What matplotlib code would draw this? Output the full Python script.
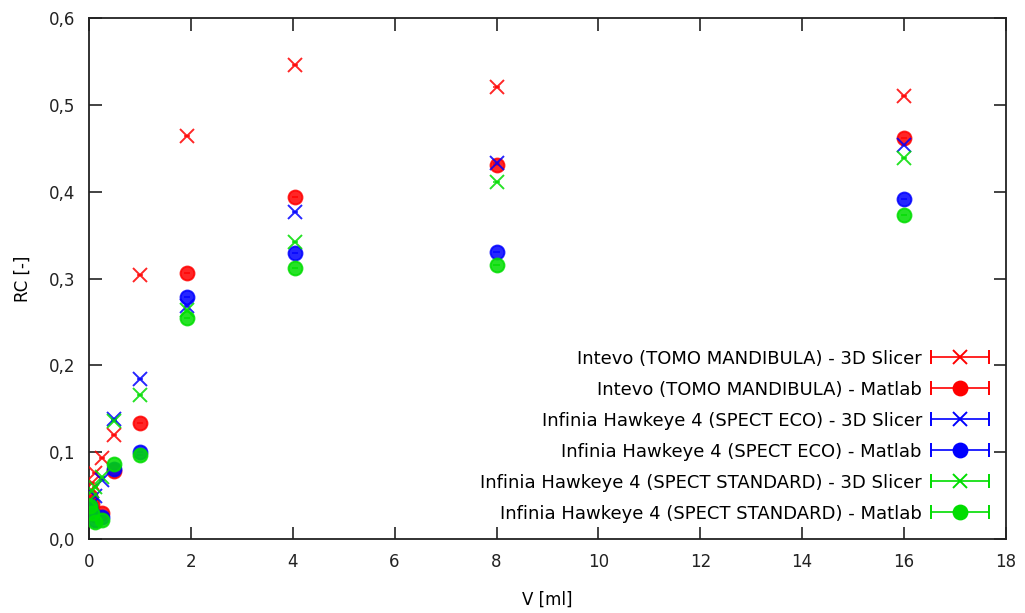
import numpy as np
import matplotlib
matplotlib.use('Agg')
import matplotlib.pyplot as plt
from matplotlib.ticker import FuncFormatter
from matplotlib.container import ErrorbarContainer
from matplotlib.legend_handler import HandlerErrorbar

# sphere volumes [ml]
vol = [16, 8, 4.04, 1.92, 1.0, 0.5, 0.25, 0.12, 0.06, 0.03]

# recovery coefficients
intevo_slicer = [0.510, 0.520, 0.546, 0.464, 0.304, 0.120, 0.093, 0.076, 0.065, 0.055]
intevo_matlab = [0.462, 0.431, 0.394, 0.306, 0.134, 0.078, 0.030, 0.028, 0.040, 0.050]
eco_slicer = [0.454, 0.433, 0.377, 0.268, 0.184, 0.138, 0.068, 0.050, 0.040, 0.035]
eco_matlab = [0.391, 0.330, 0.329, 0.279, 0.100, 0.081, 0.025, 0.022, 0.030, 0.038]
std_slicer = [0.439, 0.411, 0.342, 0.264, 0.166, 0.136, 0.071, 0.060, 0.055, 0.045]
std_matlab = [0.373, 0.316, 0.312, 0.255, 0.097, 0.086, 0.022, 0.020, 0.030, 0.038]

labels = ['Intevo (TOMO MANDIBULA) - 3D Slicer',
          'Intevo (TOMO MANDIBULA) - Matlab',
          'Infinia Hawkeye 4 (SPECT ECO) - 3D Slicer',
          'Infinia Hawkeye 4 (SPECT ECO) - Matlab',
          'Infinia Hawkeye 4 (SPECT STANDARD) - 3D Slicer',
          'Infinia Hawkeye 4 (SPECT STANDARD) - Matlab']
series = [intevo_slicer, intevo_matlab, eco_slicer, eco_matlab, std_slicer, std_matlab]
colors = ['#ff0000', '#ff0000', '#0000ff', '#0000ff', '#00dd00', '#00dd00']
markers = ['x', 'o', 'x', 'o', 'x', 'o']

plt.rcParams['font.family'] = ['DejaVu Sans']
fig = plt.figure(figsize=(10.25, 6.13), dpi=100)
ax = fig.add_axes([0.0868, 0.1207, 0.8946, 0.8499])

handles = []
for y, c, m, lab in zip(series, colors, markers, labels):
    ms = 10
    ax.errorbar(vol, y, xerr=0.06, fmt=m, color=c, ms=ms, mew=1.4,
                elinewidth=1.2, capsize=0, alpha=0.85, zorder=3)
    # legend proxy, off-screen point with caps
    h = ax.errorbar([-5], [-5], xerr=[1], fmt=m, color=c, ms=ms, mew=1.4,
                    elinewidth=1.2, capsize=5, label=lab)
    handles.append(h)

ax.set_xlim(0, 18)
ax.set_ylim(0, 0.6)
ax.set_xticks(np.arange(0, 19, 2))
ax.set_yticks(np.arange(0, 0.61, 0.1))
ax.yaxis.set_major_formatter(FuncFormatter(lambda v, p: f'{v:.1f}'.replace('.', ',')))
ax.tick_params(direction='in', length=9, width=1.2, top=True, right=True,
               labelsize=12, pad=10, colors='#222222')
for s in ax.spines.values():
    s.set_linewidth(1.3)
    s.set_color('#222222')

ax.set_xlabel('V [ml]', fontsize=12, labelpad=14)
ax.set_ylabel('RC [-]', fontsize=12, labelpad=12)

leg = ax.legend(handles=handles, labels=labels, loc='lower right', frameon=False,
                markerfirst=False, fontsize=13, handlelength=3.3,
                labelspacing=0.72, borderaxespad=0.5, handletextpad=0.45,
                handler_map={ErrorbarContainer: HandlerErrorbar(xerr_size=1.6)})
for vp in leg._legend_box._children[-1]._children:
    vp.align = 'right'

fig.savefig('out.png', dpi=100)
